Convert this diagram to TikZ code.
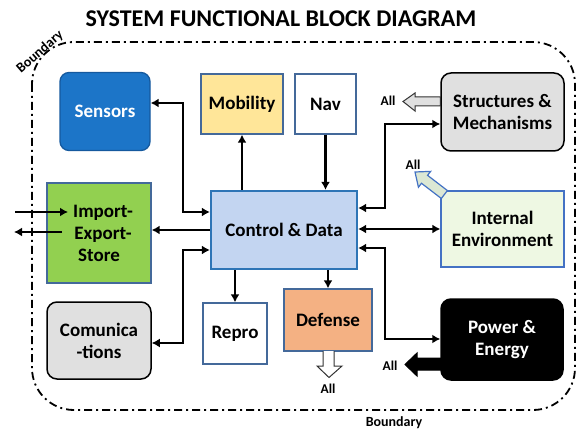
\documentclass[tikz,border=0pt]{standalone}
\usepackage{fontspec}
\setmainfont{Carlito}
\usetikzlibrary{arrows.meta,calc}
\definecolor{sensfill}{HTML}{1C75C8}
\definecolor{sensdraw}{HTML}{15599E}
\definecolor{bdr}{HTML}{44699A}
\definecolor{mobfill}{HTML}{FFE699}
\definecolor{cdfill}{HTML}{C3D5F1}
\definecolor{cddraw}{HTML}{2E75B6}
\definecolor{impfill}{HTML}{92D050}
\definecolor{envfill}{HTML}{EEF8E3}
\definecolor{envdraw}{HTML}{4472C4}
\definecolor{deffill}{HTML}{F4B183}
\definecolor{grayfill}{HTML}{E0E0E0}
\definecolor{arrfill}{HTML}{DCE8D4}
\begin{document}
\begin{tikzpicture}[x=1pt,y=-1pt,
  lbl/.style={font=\bfseries\fontsize{19}{21}\selectfont, align=center, inner sep=0},
  sqbox/.style={lbl, draw=bdr, line width=1.3pt},
  rbox/.style={lbl, draw=black, line width=1.5pt, rounded corners=10pt, fill=grayfill},
  conn/.style={line width=2.4pt, draw=black},
  tip/.style={-{Latex[length=8pt,width=9pt]}},
  dtip/.style={{Latex[length=8pt,width=9pt]}-{Latex[length=8pt,width=9pt]}},
  small/.style={font=\bfseries\fontsize{13.5}{14}\selectfont, inner sep=0}]
\useasboundingbox (0,0) rectangle (578,430);
% title
\node[font=\bfseries\fontsize{24}{26}\selectfont, inner sep=0] (title) at (281,19) {SYSTEM FUNCTIONAL BLOCK DIAGRAM};
% boundary
\draw[line width=1.8pt, dash pattern=on 8pt off 4pt on 2pt off 4pt, rounded corners=42pt]
  (32,42) rectangle (575,410);
\node[font=\bfseries\fontsize{14}{15}\selectfont, inner sep=0, rotate=41] (b1) at (40,52) {Boundary};
\node[font=\bfseries\fontsize{14}{15}\selectfont, inner sep=0] (b2) at (394,423) {Boundary};
% boxes
\node[lbl, draw=sensdraw, line width=1.3pt, fill=sensfill, text=white, rounded corners=9pt,
  minimum width=90pt, minimum height=78pt] (sens) at (105,111.5) {Sensors};
\node[sqbox, fill=mobfill, minimum width=82pt, minimum height=60pt] (mob) at (242,104) {Mobility};
\node[sqbox, fill=white, minimum width=61pt, minimum height=60pt] (nav) at (325.5,104) {Nav};
\node[rbox, minimum width=123pt, minimum height=78pt] (struct) at (502.5,112) {Structures \&\\[1pt]Mechanisms};
\node[lbl, draw=envdraw, line width=1.3pt, fill=envfill, minimum width=123pt, minimum height=76pt] (env) at (502.5,229) {Internal\\[1pt]Environment};
\node[sqbox, fill=impfill, minimum width=104pt, minimum height=100pt] (imp) at (99,233) {\hspace*{8pt}Import-\\[1pt]\hspace*{8pt}Export-\\[1pt]Store};
\node[lbl, draw=cddraw, line width=2.2pt, fill=cdfill, minimum width=146pt, minimum height=78pt] (cd) at (284,230) {Control \& Data};
\node[rbox, minimum width=104pt, minimum height=77pt] (comm) at (99,340.5) {Comunica\\[1pt]-tions};
\node[sqbox, fill=white, minimum width=64pt, minimum height=61pt] (repro) at (235,333.5) {Repro};
\node[sqbox, fill=deffill, minimum width=88pt, minimum height=62pt] (def) at (328,320) {Defense};
\node[lbl, draw=black, line width=1.5pt, rounded corners=10pt, fill=black, text=white, minimum width=122pt, minimum height=81pt] (pow) at (502,339.5) {Power \&\\[1pt]Energy};
% connectors
\draw[conn, dtip] (cd.west |- 0,212) -| (183,103) -- (sens.east |- 0,103);
\draw[conn, tip] (mob.south |- cd.north) -- (mob.south);
\draw[conn, tip] (nav.south) -- (nav.south |- cd.north);
\draw[conn, tip] (cd.west |- 0,230) -- (imp.east |- 0,230);
\draw[conn, dtip] (cd.west |- 0,250) -| (183,343) -- (comm.east |- 0,343);
\draw[conn, tip] (repro.north |- cd.south) -- (repro.north);
\draw[conn, tip] (def.north |- cd.south) -- (def.north);
\draw[conn, dtip] (cd.east |- 0,208) -| (385,124) -- (struct.west |- 0,124);
\draw[conn, dtip] (cd.east |- 0,229) -- (env.west |- 0,229);
\draw[conn, dtip] (cd.east |- 0,248) -| (385,339) -- (pow.west |- 0,339);
% external arrows at import
\coordinate (ein) at (15,212);
\coordinate (eout) at (14,232);
\draw[conn, tip] (ein) -- (ein -| 68,0);
\draw[conn, tip] (eout -| 62,0) -- (eout);
% block arrows to "All"
\node[small] (a1) at (388,101) {All};
\node[small] (a2) at (413,165) {All};
\node[small] (a3) at (328,389) {All};
\node[small] (a4) at (390,366) {All};
\draw[fill=grayfill, draw=black!80, line width=1pt]
  (struct.west |- 0,97) -- (415,97) -- (415,93) -- (403,101.5) -- (415,111) -- (415,106) -- (struct.west |- 0,106) -- cycle;
\draw[fill=black, draw=black, line width=1pt]
  (pow.west |- 0,358) -- (417,358) -- (417,353) -- (405,364.5) -- (417,376) -- (417,370) -- (pow.west |- 0,370) -- cycle;
\draw[fill=white, draw=black!80, line width=1pt]
  (323,351) -- (323,366) -- (317,366) -- (329,377.5) -- (342,366) -- (334,366) -- (334,351);
\begin{scope}[shift={(415,172)}, rotate=-37.5]
\draw[fill=arrfill, draw=envdraw, line width=1.2pt]
  (0,0) -- (12,-10) -- (12,-5) -- (37,-5) -- (37,5) -- (12,5) -- (12,10) -- cycle;
\end{scope}
\end{tikzpicture}
\end{document}
